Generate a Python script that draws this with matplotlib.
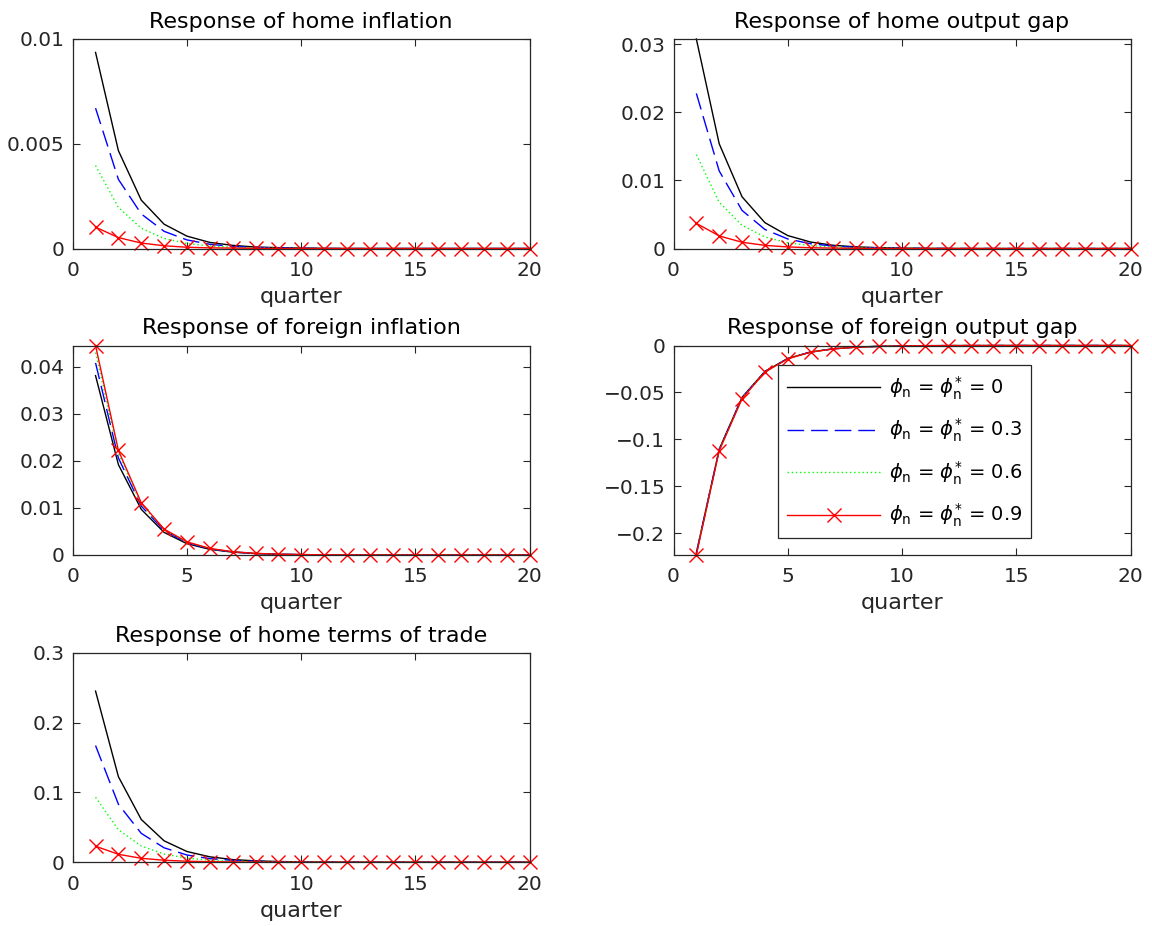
#!/usr/bin/env python3
"""Impulse responses of home/foreign variables for several phi_n values."""

import matplotlib
matplotlib.use("Agg")
import matplotlib.pyplot as plt

plt.rcParams["font.family"] = ["DejaVu Sans"]
plt.rcParams["mathtext.fontset"] = "dejavusans"

quarters = list(range(1, 21))
phi_labels = ["0", "0.3", "0.6", "0.9"]

# responses, one list per phi_n value
home_infl_0 = [0.00936, 0.00467, 0.00231, 0.00116, 0.00059, 0.00029, 0.00015, 0.00007,
               0.00004, 0.00002, 0.00001, 0.0, 0.0, 0.0, 0.0, 0.0, 0.0, 0.0, 0.0, 0.0]
home_infl_3 = [0.0067, 0.0033, 0.00165, 0.00082, 0.00041, 0.0002, 0.0001, 0.00005,
               0.00003, 0.00001, 0.0, 0.0, 0.0, 0.0, 0.0, 0.0, 0.0, 0.0, 0.0, 0.0]
home_infl_6 = [0.00396, 0.00196, 0.00097, 0.00048, 0.00024, 0.00012, 0.00006, 0.00003,
               0.00001, 0.0, 0.0, 0.0, 0.0, 0.0, 0.0, 0.0, 0.0, 0.0, 0.0, 0.0]
home_infl_9 = [0.00102, 0.00052, 0.00026, 0.00013, 0.00006, 0.00003, 0.00002, 0.00001,
               0.0, 0.0, 0.0, 0.0, 0.0, 0.0, 0.0, 0.0, 0.0, 0.0, 0.0, 0.0]

home_gap_0 = [0.0308, 0.0154, 0.0076, 0.0038, 0.0019, 0.00095, 0.00047, 0.00024,
              0.00012, 0.00006, 0.00003, 0.00001, 0.0, 0.0, 0.0, 0.0, 0.0, 0.0, 0.0, 0.0]
home_gap_3 = [0.0228, 0.0114, 0.0056, 0.0028, 0.0014, 0.0007, 0.00035, 0.00017,
              0.00009, 0.00004, 0.00002, 0.00001, 0.0, 0.0, 0.0, 0.0, 0.0, 0.0, 0.0, 0.0]
home_gap_6 = [0.0138, 0.0068, 0.0034, 0.0017, 0.00084, 0.00042, 0.00021, 0.0001,
              0.00005, 0.00003, 0.00001, 0.0, 0.0, 0.0, 0.0, 0.0, 0.0, 0.0, 0.0, 0.0]
home_gap_9 = [0.0037, 0.00185, 0.00092, 0.00046, 0.00023, 0.00011, 0.00006, 0.00003,
              0.00001, 0.0, 0.0, 0.0, 0.0, 0.0, 0.0, 0.0, 0.0, 0.0, 0.0, 0.0]

for_infl_0 = [0.0381, 0.0192, 0.0097, 0.0048, 0.0024, 0.0012, 0.0006, 0.0003,
              0.00015, 0.00008, 0.00004, 0.00002, 0.00001, 0.0, 0.0, 0.0, 0.0, 0.0, 0.0, 0.0]
for_infl_3 = [0.0408, 0.0206, 0.0104, 0.0052, 0.0026, 0.0013, 0.00065, 0.00033,
              0.00016, 0.00008, 0.00004, 0.00002, 0.00001, 0.0, 0.0, 0.0, 0.0, 0.0, 0.0, 0.0]
for_infl_6 = [0.0430, 0.0216, 0.0108, 0.0054, 0.0027, 0.00135, 0.00068, 0.00034,
              0.00017, 0.00008, 0.00004, 0.00002, 0.00001, 0.0, 0.0, 0.0, 0.0, 0.0, 0.0, 0.0]
for_infl_9 = [0.0445, 0.0222, 0.0111, 0.0055, 0.0028, 0.0014, 0.0007, 0.00035,
              0.00017, 0.00009, 0.00004, 0.00002, 0.00001, 0.0, 0.0, 0.0, 0.0, 0.0, 0.0, 0.0]

for_gap_0 = [-0.2210, -0.1105, -0.0553, -0.0276, -0.0138, -0.0069, -0.0035, -0.0017,
             -0.0009, -0.0004, -0.0002, -0.0001, -0.00005, 0.0, 0.0, 0.0, 0.0, 0.0, 0.0, 0.0]
for_gap_3 = [-0.2216, -0.1110, -0.0556, -0.0278, -0.0139, -0.0070, -0.0035, -0.0017,
             -0.0009, -0.0004, -0.0002, -0.0001, -0.00005, 0.0, 0.0, 0.0, 0.0, 0.0, 0.0, 0.0]
for_gap_6 = [-0.2222, -0.1115, -0.0560, -0.0280, -0.0140, -0.0070, -0.0035, -0.0018,
             -0.0009, -0.0004, -0.0002, -0.0001, -0.00005, 0.0, 0.0, 0.0, 0.0, 0.0, 0.0, 0.0]
for_gap_9 = [-0.2230, -0.1122, -0.0566, -0.0284, -0.0142, -0.0071, -0.0036, -0.0018,
             -0.0009, -0.0005, -0.0002, -0.0001, -0.00005, 0.0, 0.0, 0.0, 0.0, 0.0, 0.0, 0.0]

tot_0 = [0.245, 0.1225, 0.0612, 0.0306, 0.0153, 0.0077, 0.0038, 0.0019,
         0.001, 0.0005, 0.0002, 0.0001, 0.0, 0.0, 0.0, 0.0, 0.0, 0.0, 0.0, 0.0]
tot_3 = [0.167, 0.0830, 0.0413, 0.0206, 0.0103, 0.0051, 0.0026, 0.0013,
         0.0006, 0.0003, 0.0002, 0.0001, 0.0, 0.0, 0.0, 0.0, 0.0, 0.0, 0.0, 0.0]
tot_6 = [0.093, 0.0464, 0.0232, 0.0116, 0.0058, 0.0029, 0.0014, 0.0007,
         0.0004, 0.0002, 0.0001, 0.0, 0.0, 0.0, 0.0, 0.0, 0.0, 0.0, 0.0, 0.0]
tot_9 = [0.0229, 0.0113, 0.0056, 0.0028, 0.0014, 0.0007, 0.0004, 0.0002,
         0.0001, 0.0, 0.0, 0.0, 0.0, 0.0, 0.0, 0.0, 0.0, 0.0, 0.0, 0.0]

titles = ["Response of home inflation", "Response of home output gap",
          "Response of foreign inflation", "Response of foreign output gap",
          "Response of home terms of trade"]
series = [
    [home_infl_0, home_infl_3, home_infl_6, home_infl_9],
    [home_gap_0, home_gap_3, home_gap_6, home_gap_9],
    [for_infl_0, for_infl_3, for_infl_6, for_infl_9],
    [for_gap_0, for_gap_3, for_gap_6, for_gap_9],
    [tot_0, tot_3, tot_6, tot_9],
]
ylims = [(0, 0.01), (0, 0.0308), (0, 0.0445), (-0.2232, 0), (0, 0.3)]
yticks = [
    [0, 0.005, 0.01],
    [0, 0.01, 0.02, 0.03],
    [0, 0.01, 0.02, 0.03, 0.04],
    [-0.2, -0.15, -0.1, -0.05, 0],
    [0, 0.1, 0.2, 0.3],
]
ytick_labels = [
    ["0", "0.005", "0.01"],
    ["0", "0.01", "0.02", "0.03"],
    ["0", "0.01", "0.02", "0.03", "0.04"],
    ["\u22120.2", "\u22120.15", "\u22120.1", "\u22120.05", "0"],
    ["0", "0.1", "0.2", "0.3"],
]

# axes boxes in pixels (left, top), converted to figure fractions below
W, H = 1152, 926
col_x = [72.7, 673.5]
row_top = [39, 345.5, 652.7]
ax_w, ax_h = 457, 209.5
positions = [(col_x[i % 2], row_top[i // 2]) for i in range(5)]

styles = [
    dict(color="black", linestyle="-"),
    dict(color="blue", dashes=(12, 5)),
    dict(color="#00ff00", linestyle=(0, (1, 2))),
    dict(color="red", linestyle="-", marker="x", markersize=10, markeredgewidth=1.0),
]

FS = 16        # titles and axis labels
TICK_FS = 14.5
INK = "#262626"

fig = plt.figure(figsize=(W / 100, H / 100), dpi=100)

for k in range(5):
    x0, y0 = positions[k]
    ax = fig.add_axes([x0 / W, 1 - (y0 + ax_h) / H, ax_w / W, ax_h / H])
    handles = []
    for s, st in zip(series[k], styles):
        (h,) = ax.plot(quarters, s, linewidth=1.0, clip_on=False, **st)
        handles.append(h)
    ax.set_xlim(0, 20)
    ax.set_ylim(*ylims[k])
    ax.set_xticks([0, 5, 10, 15, 20])
    ax.set_yticks(yticks[k])
    ax.set_yticklabels(ytick_labels[k])
    ax.tick_params(direction="in", top=True, right=True, length=5, width=0.8,
                   labelsize=TICK_FS, colors=INK, labelcolor=INK)
    ax.tick_params(axis="x", pad=9)
    ax.tick_params(axis="y", pad=6)
    for sp in ax.spines.values():
        sp.set_linewidth(0.9)
        sp.set_color(INK)
    ax.set_title(titles[k], fontsize=FS, pad=8)
    ax.set_xlabel("quarter", fontsize=FS, labelpad=5, color=INK)

    if k == 3:
        labels = [r"$\phi_{\mathrm{n}}$ = $\phi^{*}_{\mathrm{n}}$ = " + p for p in phi_labels]
        leg = ax.legend(handles, labels, loc="upper left", bbox_to_anchor=(0.229, 0.905),
                        borderaxespad=0, fontsize=14, handlelength=4.8, numpoints=1,
                        frameon=True, fancybox=False, framealpha=1, edgecolor=INK,
                        borderpad=0.45, labelspacing=0.78, handletextpad=0.45)
        leg.get_frame().set_linewidth(0.9)

fig.savefig("out.png", dpi=100)
